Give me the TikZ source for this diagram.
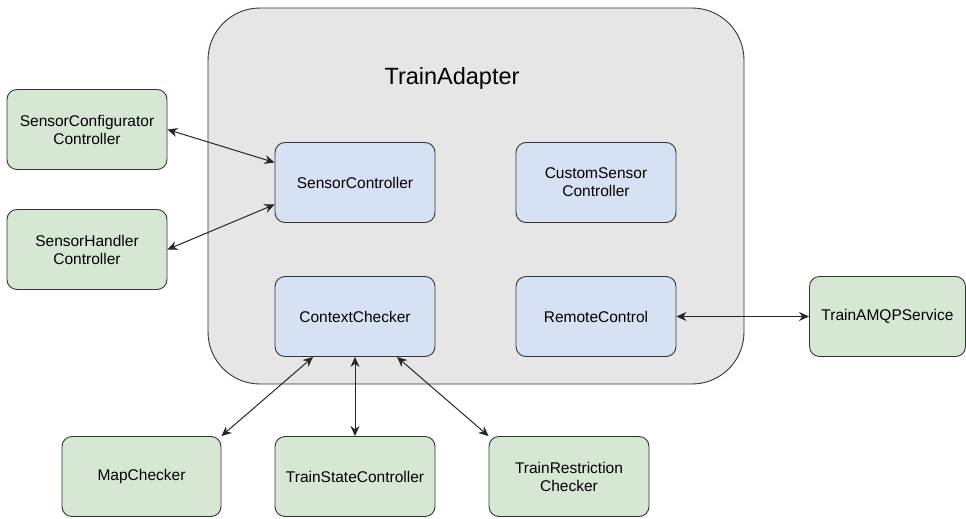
\documentclass[tikz,border=0pt]{standalone}
\usepackage{fontspec}
\setmainfont{Liberation Sans}
\usetikzlibrary{calc,arrows.meta}
\definecolor{adapterfill}{HTML}{E6E6E6}
\definecolor{innerfill}{HTML}{D6E2F4}
\definecolor{outerfill}{HTML}{D6E8D4}
\definecolor{edgegray}{HTML}{333333}
\begin{document}
\begin{tikzpicture}[x=1pt,y=-1pt,
  box/.style={draw=edgegray,line width=0.9pt,rounded corners=10pt,
    minimum width=160pt,minimum height=80pt,align=center,inner sep=2pt,
    font=\fontsize{15.5}{18}\selectfont},
  inner/.style={box,fill=innerfill},
  outer/.style={box,fill=outerfill},
  link/.style={draw=black!85,line width=1pt,{Stealth[length=10pt,width=9pt]}-{Stealth[length=10pt,width=9pt]}}]
\useasboundingbox (0,0) rectangle (966,519);

% container
\draw[draw=edgegray,fill=adapterfill,line width=0.9pt,rounded corners=52pt]
  (208,8) rectangle (744,384);
\node[font=\fontsize{23.5}{27}\selectfont] (title) at (452,78) {TrainAdapter};

% components inside the adapter
\node[inner] (sc)  at (355,182.5) {SensorController};
\node[inner] (csc) at (596,182.5) {CustomSensor\\Controller};
\node[inner] (cc)  at (355,316.5) {ContextChecker};
\node[inner] (rc)  at (596,316.5) {RemoteControl};

% external components
\node[outer] (scfg) at (87,129.5) {SensorConfigurator\\Controller};
\node[outer] (shc)  at (87,249.5) {SensorHandler\\Controller};
\node[outer,minimum width=156pt] (amqp) at (887.5,316.5) {TrainAMQPService};
\node[outer,minimum width=159pt] (map) at (141.5,476.5) {MapChecker};
\node[outer] (tsc) at (355,476.5) {TrainStateController};
\node[outer] (trc) at (569,476.5) {TrainRestriction\\Checker};

% connections
\draw[link] (scfg.east) -- ($(sc.west)+(0,-20)$);
\draw[link] (shc.east) -- ($(sc.west)+(0,22)$);
\draw[link] ($(cc.south)+(-42,0)$) -- (map.north east);
\draw[link] (cc.south) -- (tsc.north);
\draw[link] ($(cc.south)+(42,0)$) -- (trc.north west);
\draw[link] (rc.east) -- (amqp.west);
\end{tikzpicture}
\end{document}
